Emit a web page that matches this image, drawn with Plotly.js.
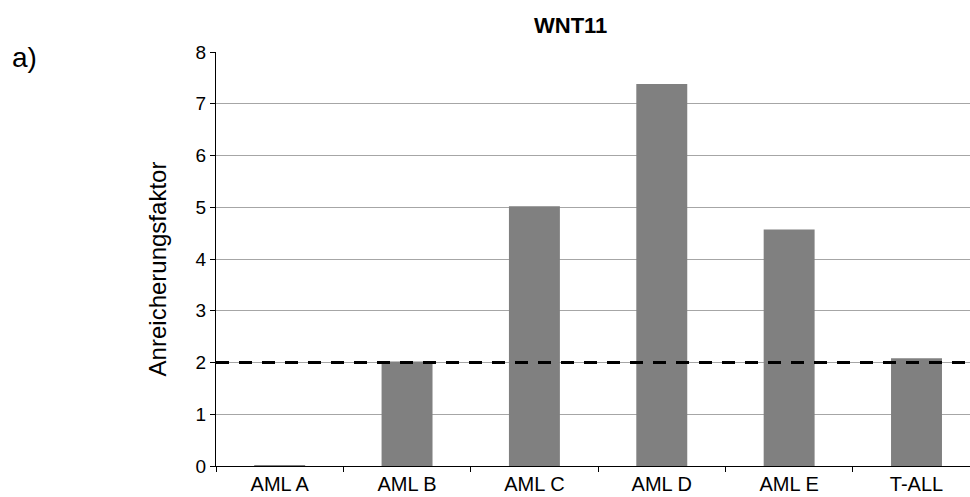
<!DOCTYPE html>
<html>
<head>
<meta charset="utf-8">
<script src="https://cdn.plot.ly/plotly-3.0.1.min.js"></script>
<style>html,body{margin:0;padding:0;background:#fff;overflow:hidden;}</style>
</head>
<body>
<div id="chart" style="width:970px;height:497px;"></div>
<script>
const categories = ["AML A", "AML B", "AML C", "AML D", "AML E", "T-ALL"];
const values = [0.02, 2.02, 5.02, 7.38, 4.57, 2.08];
const threshold = 2;
const yTicks = [0, 1, 2, 3, 4, 5, 6, 7, 8];

const FONT = '"Liberation Sans", Arial, sans-serif';

const trace = {
  type: 'bar',
  x: categories,
  y: values,
  width: 0.4,
  marker: {color: '#808080', line: {width: 0}},
  hoverinfo: 'x+y'
};

const layout = {
  width: 970,
  height: 497,
  margin: {l: 216, r: 0, t: 52, b: 31},
  paper_bgcolor: '#ffffff',
  plot_bgcolor: '#ffffff',
  showlegend: false,
  font: {family: FONT, color: '#000000', size: 17},
  xaxis: {
    type: 'category',
    range: [-0.5, 5.42],
    showline: true,
    linecolor: '#000000',
    linewidth: 1,
    ticks: 'outside',
    tickson: 'boundaries',
    ticklen: 5,
    tickcolor: '#000000',
    showgrid: false,
    zeroline: false,
    tickfont: {family: FONT, size: 20, color: '#000000'},
    fixedrange: true
  },
  yaxis: {
    range: [0, 8],
    tickvals: yTicks,
    ticktext: yTicks.map(String),
    showline: true,
    linecolor: '#000000',
    linewidth: 1,
    ticks: 'outside',
    ticklen: 5,
    tickcolor: '#000000',
    showgrid: true,
    gridcolor: '#a6a6a6',
    gridwidth: 1,
    zeroline: false,
    tickfont: {family: FONT, size: 19, color: '#000000'},
    fixedrange: true
  },
  shapes: [{
    type: 'line',
    xref: 'paper', yref: 'y',
    x0: 0, x1: 1, y0: threshold, y1: threshold,
    line: {color: '#000000', width: 3, dash: '13px,10px'}
  }],
  annotations: [
    {
      text: '<b>WNT11</b>',
      xref: 'paper', yref: 'paper',
      x: 0.4695, y: 1.065,
      xanchor: 'center', yanchor: 'middle',
      showarrow: false,
      font: {family: FONT, size: 22, color: '#000000'}
    },
    {
      text: 'Anreicherungsfaktor',
      xref: 'paper', yref: 'paper',
      x: -0.0782, y: 0.475,
      xanchor: 'center', yanchor: 'middle',
      textangle: -90,
      showarrow: false,
      font: {family: FONT, size: 24, color: '#000000'}
    },
    {
      text: 'a)',
      xref: 'paper', yref: 'paper',
      x: -0.2546, y: 0.987,
      xanchor: 'center', yanchor: 'middle',
      showarrow: false,
      font: {family: FONT, size: 28, color: '#000000'}
    }
  ]
};

Plotly.newPlot('chart', [trace], layout, {displayModeBar: false, staticPlot: true});
</script>
</body>
</html>
